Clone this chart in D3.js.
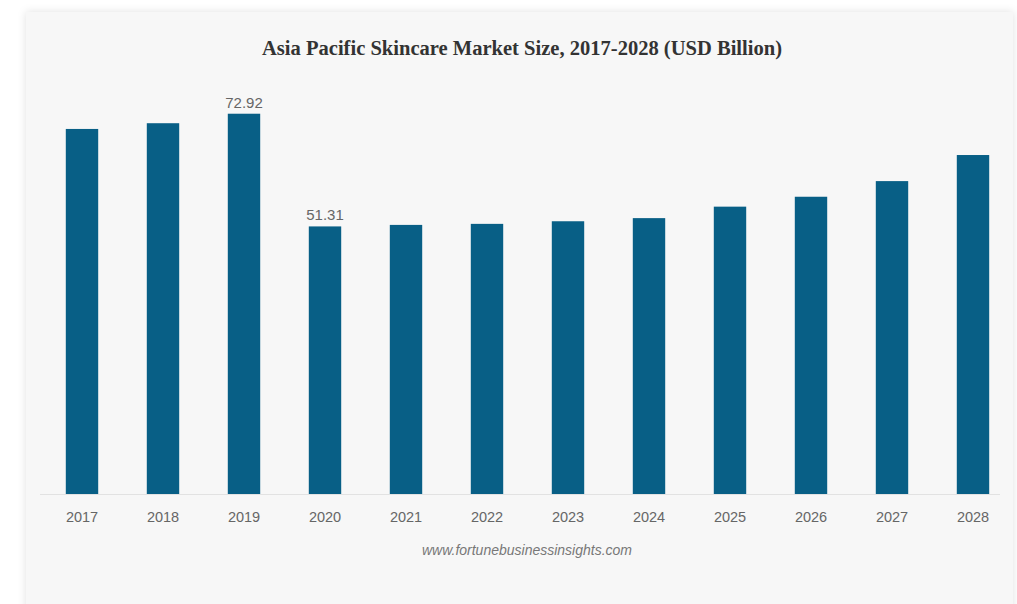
<!DOCTYPE html>
<html>
<head>
<meta charset="utf-8">
<script src="https://cdn.jsdelivr.net/npm/d3@7"></script>
<style>
  body { margin: 0; background: #fff; }
  .card { filter: drop-shadow(0px 0px 4px rgba(0,0,0,0.12)); }
  .title { font-family: "Liberation Serif", "Times New Roman", serif; font-weight: bold; fill: #333; }
  .tick-label { font-family: "Liberation Sans", Arial, sans-serif; fill: #666; }
  .bar-value { font-family: "Liberation Sans", Arial, sans-serif; fill: #666; }
  .source { font-family: "Liberation Sans", Arial, sans-serif; font-style: italic; fill: #777; }
</style>
</head>
<body>
<div id="wrapper"></div>
<script>
  // 1. Data
  const years = ["2017", "2018", "2019", "2020", "2021", "2022", "2023", "2024", "2025", "2026", "2027", "2028"]
  const marketSize = [70.0, 71.1, 72.92, 51.31, 51.6, 51.8, 52.3, 52.9, 55.1, 57.0, 60.0, 65.0]
  const labelledYears = ["2019", "2020"]   // only these bars carry a value label

  const dataset = years.map((y, i) => ({ year: y, value: marketSize[i] }))

  // 2. Dimensions
  const dimensions = {
    width: 1017,
    height: 604,
    margin: { top: 0, right: 3.5, bottom: 110, left: 41.5 },
  }
  dimensions.boundedWidth = dimensions.width - dimensions.margin.left - dimensions.margin.right
  const baseline = 494
  const yTop = baseline - 5.215 * 100

  // 3. Canvas
  const svg = d3.select("#wrapper").append("svg")
      .attr("width", dimensions.width)
      .attr("height", dimensions.height)

  svg.append("rect")
      .attr("class", "card")
      .attr("x", 26)
      .attr("y", 12)
      .attr("width", 987)
      .attr("height", 620)
      .attr("fill", "#f7f7f7")

  // 4. Scales
  const xScale = d3.scaleBand()
      .domain(years)
      .range([dimensions.margin.left, dimensions.margin.left + dimensions.boundedWidth])
      .paddingInner(0.6)
      .paddingOuter(0.3)

  const yScale = d3.scaleLinear()
      .domain([0, 100])
      .range([baseline, yTop])

  // 5. Title
  svg.append("text")
      .attr("class", "title")
      .attr("x", 522)
      .attr("y", 55)
      .attr("text-anchor", "middle")
      .attr("textLength", 520)
      .attr("lengthAdjust", "spacingAndGlyphs")
      .style("font-size", "20px")
      .text("Asia Pacific Skincare Market Size, 2017-2028 (USD Billion)")

  // 6. Bars
  svg.append("g").selectAll("rect")
    .data(dataset)
    .join("rect")
      .attr("x", d => xScale(d.year))
      .attr("y", d => yScale(d.value))
      .attr("width", xScale.bandwidth())
      .attr("height", d => yScale(0) - yScale(d.value))
      .attr("fill", "#085f86")

  svg.append("g").selectAll("text")
    .data(dataset.filter(d => labelledYears.includes(d.year)))
    .join("text")
      .attr("class", "bar-value")
      .attr("x", d => xScale(d.year) + xScale.bandwidth() / 2)
      .attr("y", d => yScale(d.value) - 6)
      .attr("text-anchor", "middle")
      .style("font-size", "15px")
      .text(d => d3.format(".2f")(d.value))

  // 7. Axis
  const xAxis = svg.append("g")
      .attr("transform", `translate(0, ${baseline})`)
      .call(d3.axisBottom(xScale).tickSize(0).tickPadding(18))

  xAxis.select(".domain")
      .attr("stroke", "#e2e2e2")
      .attr("d", `M40,0.5H1000`)

  xAxis.selectAll(".tick text")
      .attr("class", "tick-label")
      .style("font-size", "14.5px")
      .attr("fill", null)

  // 8. Source
  svg.append("text")
      .attr("class", "source")
      .attr("x", 527)
      .attr("y", 555)
      .attr("text-anchor", "middle")
      .style("font-size", "14px")
      .text("www.fortunebusinessinsights.com")
</script>
</body>
</html>
